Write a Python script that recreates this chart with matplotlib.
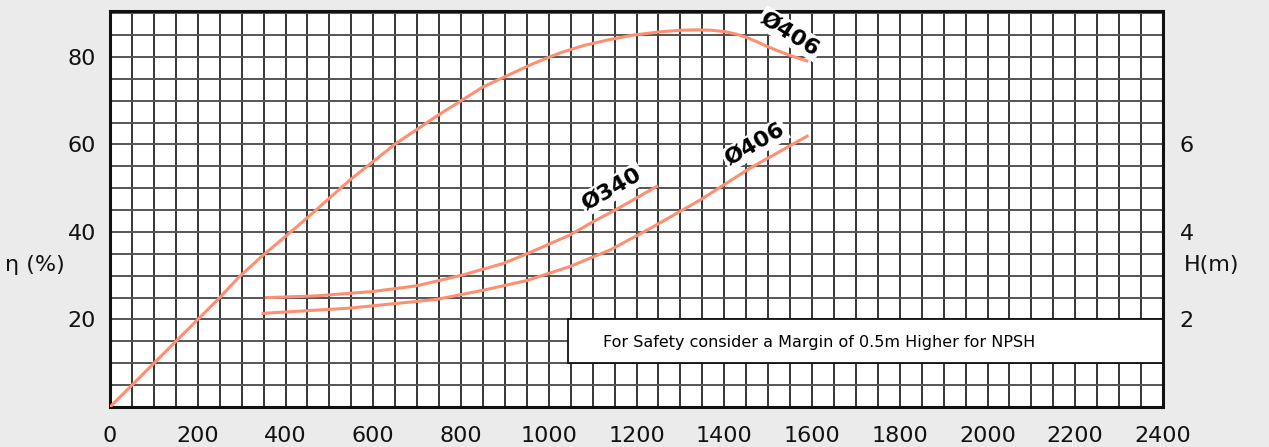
import matplotlib
matplotlib.use("Agg")
import matplotlib.pyplot as plt
from matplotlib.patches import Rectangle

# efficiency curve (left axis, %)
q_eff = [0, 50, 100, 200, 250, 293, 349, 400, 448, 547, 650, 748, 851, 965,
         1025, 1079, 1140, 1193, 1250, 1299, 1340, 1370, 1400, 1428, 1450,
         1474, 1500, 1535, 1560, 1588]
eff = [0, 5, 10, 20, 25, 29.6, 34.7, 39.0, 43.1, 51.9, 60.1, 66.7, 73.2, 78.5,
       80.9, 82.6, 84.0, 85.0, 85.7, 86.1, 86.2, 86.1, 85.8, 85.2, 84.5,
       83.5, 82.3, 80.9, 80.0, 79.1]

# NPSH curves (right axis, m)
q_340 = [357, 471, 600, 699, 805, 896, 950, 1048, 1102, 1155, 1246]
h_340 = [2.50, 2.54, 2.64, 2.77, 3.02, 3.28, 3.50, 3.93, 4.24, 4.52, 5.04]
q_406 = [349, 547, 745, 851, 950, 1048, 1140, 1231, 1345, 1459, 1589]
h_406 = [2.14, 2.26, 2.46, 2.67, 2.89, 3.21, 3.59, 4.08, 4.73, 5.46, 6.19]

x_ticks = list(range(0, 2401, 200))
eff_ticks = [20, 40, 60, 80]
h_ticks = [2, 4, 6]

bg = "#ebebeb"
curve = "#ff8f73"

fig = plt.figure(figsize=(12.69, 4.47), dpi=100, facecolor=bg)
ax = fig.add_axes([110/1269, 40/447, 1053/1269, 396/447])
ax.set_xlim(0, 2400)
ax.set_ylim(0, 90.5)
ax.set_xticks(x_ticks)
ax.set_xticks(range(0, 2401, 50), minor=True)
ax.set_yticks(eff_ticks)
ax.set_yticks(range(0, 91, 5), minor=True)
ax.set_axisbelow(True)
ax.grid(axis="x", which="both", color="#000000", linewidth=1.1)
ax.grid(axis="y", which="both", color="#555555", linewidth=1.4)
ax.tick_params(which="both", length=0)
ax.tick_params(axis="x", pad=14, labelsize=16, labelcolor="#111111")
ax.tick_params(axis="y", pad=10, labelsize=16, labelcolor="#111111")
for s in ax.spines.values():
    s.set_linewidth(2.2)
    s.set_color("#111111")

ax.plot(q_eff, eff, color=curve, lw=2.2, zorder=3)

# note box
ax.add_patch(Rectangle((1045, 10), 1355, 10, facecolor="white",
                       edgecolor="#111111", lw=1.3, zorder=2))
ax.text(1616, 14.8, "For Safety consider a Margin of 0.5m Higher for NPSH",
        ha="center", va="center", fontsize=11.5, zorder=4)

lbl = dict(fontsize=16, fontweight="bold", ha="center", va="center",
           bbox=dict(facecolor="white", edgecolor="none", pad=1.5), zorder=4)
ax.text(1550, 85.3, "Ø406", rotation=-32, **lbl)
ax.text(1144, 49.8, "Ø340", rotation=30, **lbl)
ax.text(1470, 60.0, "Ø406", rotation=30, **lbl)

ax2 = ax.twinx()
ax2.set_ylim(0, 9.05)
ax2.set_yticks(h_ticks)
ax2.tick_params(length=0, pad=12, labelsize=16, labelcolor="#111111")
for s in ax2.spines.values():
    s.set_visible(False)
ax2.plot(q_340, h_340, color=curve, lw=2.2)
ax2.plot(q_406, h_406, color=curve, lw=2.2)

fig.text(35/1269, 1 - 265/447, "η (%)", ha="center", va="center", fontsize=16, color="#111111")
fig.text(1212/1269, 1 - 265/447, "H(m)", ha="center", va="center", fontsize=16, color="#111111")

fig.savefig("out.png", dpi=100, facecolor=bg)
